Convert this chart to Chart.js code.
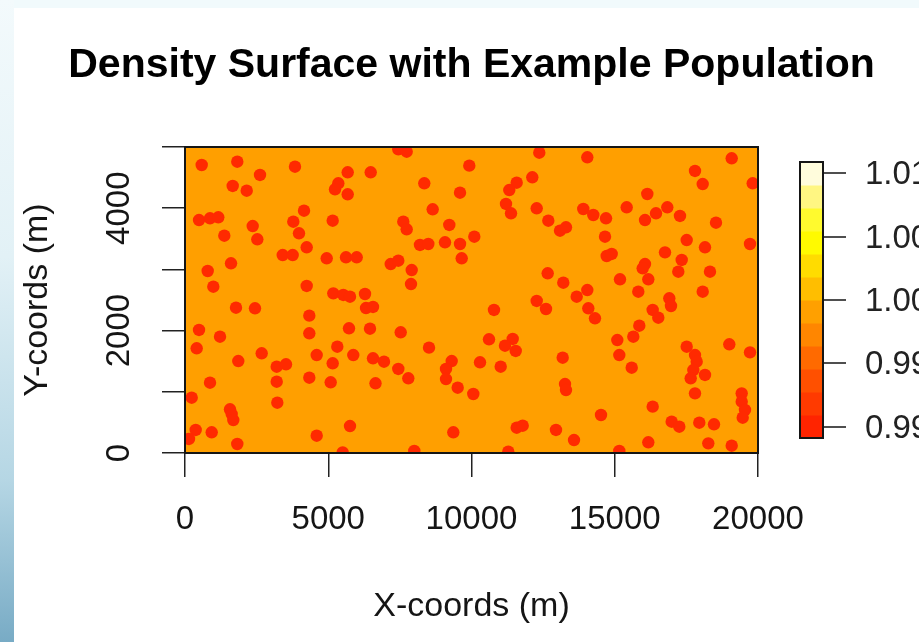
<!DOCTYPE html>
<html>
<head>
<meta charset="utf-8">
<title>Density Surface with Example Population</title>
<script src="https://cdn.jsdelivr.net/npm/chart.js@4.4.0/dist/chart.umd.min.js"></script>
<style>
  html, body { margin: 0; padding: 0; background: #ffffff; }
  #wrap { position: relative; width: 919px; height: 642px; overflow: hidden; background: #ffffff; }
  #topEdge { position: absolute; left: 0; top: 0; width: 919px; height: 8px; background: #f1fafc; }
  #leftEdge { position: absolute; left: 0; top: 0; width: 14px; height: 642px;
    background: linear-gradient(#f3fafc 0%, #e2f1f6 40%, #b5d6e4 75%, #78abc5 100%); }
  #chart { position: absolute; left: 0; top: 0; }
</style>
</head>
<body>
<div id="wrap">
  <div id="topEdge"></div>
  <div id="leftEdge"></div>
  <canvas id="chart" width="919" height="642"></canvas>
</div>
<script>
// simulated population (metres)
const xCoords = [
  583, 1825, 2618, 3839, 5679, 6482, 1665, 2154, 5351, 5236, 5679, 4154, 489, 873, 1162, 2363, 3780, 5155,
  1372, 2524, 3979, 4248, 3410, 3759, 4946, 5620, 5993, 1606, 792, 988, 4248, 5176, 5525, 5759, 6283,
  7445, 7738, 12366, 9923, 8352, 9599, 11577, 12122, 11319, 11204, 11379, 8645, 12276, 12681, 13089, 13298,
  7619, 7738, 9225, 10098, 8202, 8492, 9075, 9599, 9658, 7180, 7445, 7913, 7888, 12659, 13204, 12276, 12600,
  14042, 19082, 17801, 18070, 19815, 16136, 13902, 14251, 14695, 15417, 16056, 16440, 16834, 17277, 18534,
  14660, 17511, 18150, 19721, 14719, 14893, 16754, 17337, 16056, 15975, 17218, 18324, 15183, 16171, 14042,
  13672, 15822, 16904, 18070,
  1780, 2443, 4339, 6318, 6562, 489, 1222, 4339, 5724, 6457, 408, 2677, 1860, 5316, 4597, 5874, 6562, 6946,
  5155, 3201, 3525, 4339, 873, 3201, 5085, 6649, 234, 3222, 1571, 1630, 1686, 373, 140, 932, 1825, 4597,
  5759, 5504,
  10785, 7529, 8517, 10611, 11438, 11169, 11543, 7445, 7794, 9309, 9110, 9110, 10297, 11019, 13183, 9518,
  10063, 13264, 13298, 9365, 11577, 11787, 12949, 8003, 11284,
  16963, 14077, 14310, 16324, 16520, 15857, 15648, 15089, 15159, 15592, 17511, 17801, 17860, 17742, 17651,
  18150, 18998, 19721, 17801, 19431, 19431, 19546, 19466, 16324, 14520, 16987, 17253, 17951, 18464, 13578,
  16171, 18265, 19082, 15159
];
const yCoords = [
  4706, 4760, 4543, 4678, 4587, 4587, 4363, 4286, 4407, 4309, 4227, 3959, 3807, 3835, 3851, 3709, 3779, 3796,
  3551, 3492, 3590, 3361, 3235, 3235, 3181, 3198, 3198, 3100, 2974, 2717, 2729, 2609, 2582, 2554, 2598,
  4962, 4923, 4907, 4695, 4407, 4253, 4417, 4505, 4297, 4069, 3917, 3982, 3998, 3796, 3632, 3688,
  3779, 3655, 3726, 3534, 3399, 3415, 3443, 3415, 3181, 3088, 3142, 2990, 2761, 2936, 2783, 2484, 2353,
  4832, 4815, 4608, 4395, 4407, 4232, 3987, 3889, 3835, 4015, 3807, 3917, 4015, 3873, 3763,
  3534, 3480, 3361, 3415, 3219, 3252, 3279, 3154, 3088, 3018, 2962, 2962, 2838, 2838, 2663,
  2554, 2636, 2528, 2636,
  2374, 2364, 2244, 2369, 2386, 2010, 1900, 1956, 2038, 2031, 1711, 1629, 1503, 1737, 1601, 1601, 1547, 1492,
  1466, 1410, 1449, 1230, 1149, 1165, 1155, 1139, 904, 822, 714, 637, 539, 376, 229, 338, 147, 283,
  441, 11,
  2337, 1972, 1721, 1858, 1863, 1753, 1667, 1373, 1221, 1503, 1373, 1209, 1482, 1410, 1557, 1067,
  964, 1127, 1029, 338, 413, 446, 376, 33, 21,
  2402, 2364, 2201, 2337, 2211, 2080, 1900, 1846, 1601, 1394, 1737, 1601, 1492, 1356, 1221,
  1275, 1776, 1645, 975, 975, 838, 703, 577, 757, 621, 511, 430, 495, 469, 212,
  175, 158, 119, 33
];

const xTickValues = [0, 5000, 10000, 15000, 20000];
const yTickValues = [0, 1000, 2000, 3000, 4000, 5000];
const yTickLabelled = [0, 2000, 4000];

// colour key of the density surface, low to high
const legendColours = ['#ff2400', '#ff3a00', '#ff5000', '#ff6a00', '#ff8600', '#ffa000',
                       '#ffbe00', '#ffdc00', '#fffa00', '#fffa2e', '#fff682', '#fffcdc'];
const legendRange = [0.98913, 1.01087];
const legendTickValues = [0.990, 0.995, 1.000, 1.005, 1.010];
const legendTickLabels = ['0.99', '0.99', '1.00', '1.00', '1.01'];

const chartTitle = 'Density Surface with Example Population';
const surfaceColour = '#ff9f00';
const pointColour = '#ff2a00';
const inkColour = '#151515';
const fontFamily = '"Liberation Sans", Arial, Helvetica, sans-serif';

Chart.defaults.font.family = fontFamily;
Chart.defaults.color = inkColour;

// orange surface under the points, and the frame round it
const plotFrame = {
  id: 'plotFrame',
  beforeDraw(chart) {
    const { ctx, chartArea: a } = chart;
    ctx.save();
    ctx.fillStyle = surfaceColour;
    ctx.fillRect(a.left, a.top, a.width, a.height);
    ctx.restore();
  },
  afterDatasetsDraw(chart) {
    const { ctx, chartArea: a } = chart;
    ctx.save();
    ctx.strokeStyle = inkColour;
    ctx.lineWidth = 2;
    ctx.strokeRect(a.left, a.top, a.width, a.height);
    ctx.restore();
  }
};

// main title, centred over the plot region
const mainTitle = {
  id: 'mainTitle',
  afterDraw(chart) {
    const { ctx, chartArea: a } = chart;
    ctx.save();
    ctx.font = 'bold 41px ' + fontFamily;
    ctx.fillStyle = '#000000';
    ctx.textAlign = 'center';
    ctx.textBaseline = 'alphabetic';
    ctx.fillText(chartTitle, (a.left + a.right) / 2, 77);
    ctx.restore();
  }
};

// colour bar on the right
const colourBar = {
  id: 'colourBar',
  afterDraw(chart) {
    const { ctx } = chart;
    const left = 800, width = 23, top = 162, bottom = 438;
    const toY = v => bottom - (v - legendRange[0]) / (legendRange[1] - legendRange[0]) * (bottom - top);
    const band = (bottom - top) / legendColours.length;
    ctx.save();
    legendColours.forEach((c, i) => {
      ctx.fillStyle = c;
      ctx.fillRect(left, bottom - (i + 1) * band, width, band + 0.5);
    });
    ctx.strokeStyle = inkColour;
    ctx.lineWidth = 2;
    ctx.strokeRect(left, top, width, bottom - top);
    ctx.lineWidth = 1.5;
    ctx.font = '33px ' + fontFamily;
    ctx.fillStyle = '#222222';
    ctx.textAlign = 'left';
    ctx.textBaseline = 'middle';
    legendTickValues.forEach((v, i) => {
      const y = Math.round(toY(v));
      ctx.beginPath();
      ctx.moveTo(left + width, y);
      ctx.lineTo(left + width + 23, y);
      ctx.stroke();
      ctx.fillText(legendTickLabels[i], 865, y + 2);
    });
    ctx.restore();
  }
};

const ctx = document.getElementById('chart').getContext('2d');
const myChart = new Chart(ctx, {
  type: 'scatter',
  data: {
    datasets: [{
      label: 'Population',
      data: xCoords.map((x, i) => ({ x: x, y: yCoords[i] })),
      backgroundColor: pointColour,
      borderWidth: 0,
      pointRadius: 6.2,
      pointHoverRadius: 6.2,
      clip: 0
    }]
  },
  options: {
    responsive: false,
    animation: false,
    events: [],
    layout: { padding: { left: 0, right: 161, top: 147, bottom: 0 } },
    plugins: {
      legend: { display: false },
      title: { display: false },
      tooltip: { enabled: false }
    },
    scales: {
      x: {
        type: 'linear',
        position: 'bottom',
        min: 0,
        max: 20000,
        afterBuildTicks: s => { s.ticks = xTickValues.map(v => ({ value: v })); },
        afterFit: s => { s.height = 189; },
        grid: { drawOnChartArea: false, drawTicks: true, tickLength: 24, color: '#222222', lineWidth: 1.5 },
        border: { display: true, color: inkColour, width: 2 },
        ticks: {
          font: { size: 33 },
          color: inkColour,
          padding: 23,
          autoSkip: false,
          minRotation: 0,
          maxRotation: 0,
          callback: v => String(v)
        },
        title: {
          display: true,
          text: 'X-coords (m)',
          font: { size: 34 },
          color: inkColour,
          padding: { top: 0, bottom: 15 }
        }
      },
      y: {
        type: 'linear',
        position: 'left',
        min: 0,
        max: 5000,
        afterBuildTicks: s => { s.ticks = yTickValues.map(v => ({ value: v })); },
        afterFit: s => { s.width = 185; },
        grid: { drawOnChartArea: false, drawTicks: true, tickLength: 23, color: '#222222', lineWidth: 1.5 },
        border: { display: true, color: inkColour, width: 2 },
        ticks: {
          font: { size: 33 },
          color: inkColour,
          padding: 5,
          autoSkip: false,
          minRotation: 90,
          maxRotation: 90,
          crossAlign: 'center',
          callback: v => yTickLabelled.includes(v) ? String(v) : ''
        },
        title: {
          display: true,
          text: 'Y-coords (m)',
          font: { size: 34 },
          color: inkColour,
          padding: { top: 17, bottom: 0 }
        }
      }
    }
  },
  plugins: [plotFrame, mainTitle, colourBar]
});
</script>
</body>
</html>
